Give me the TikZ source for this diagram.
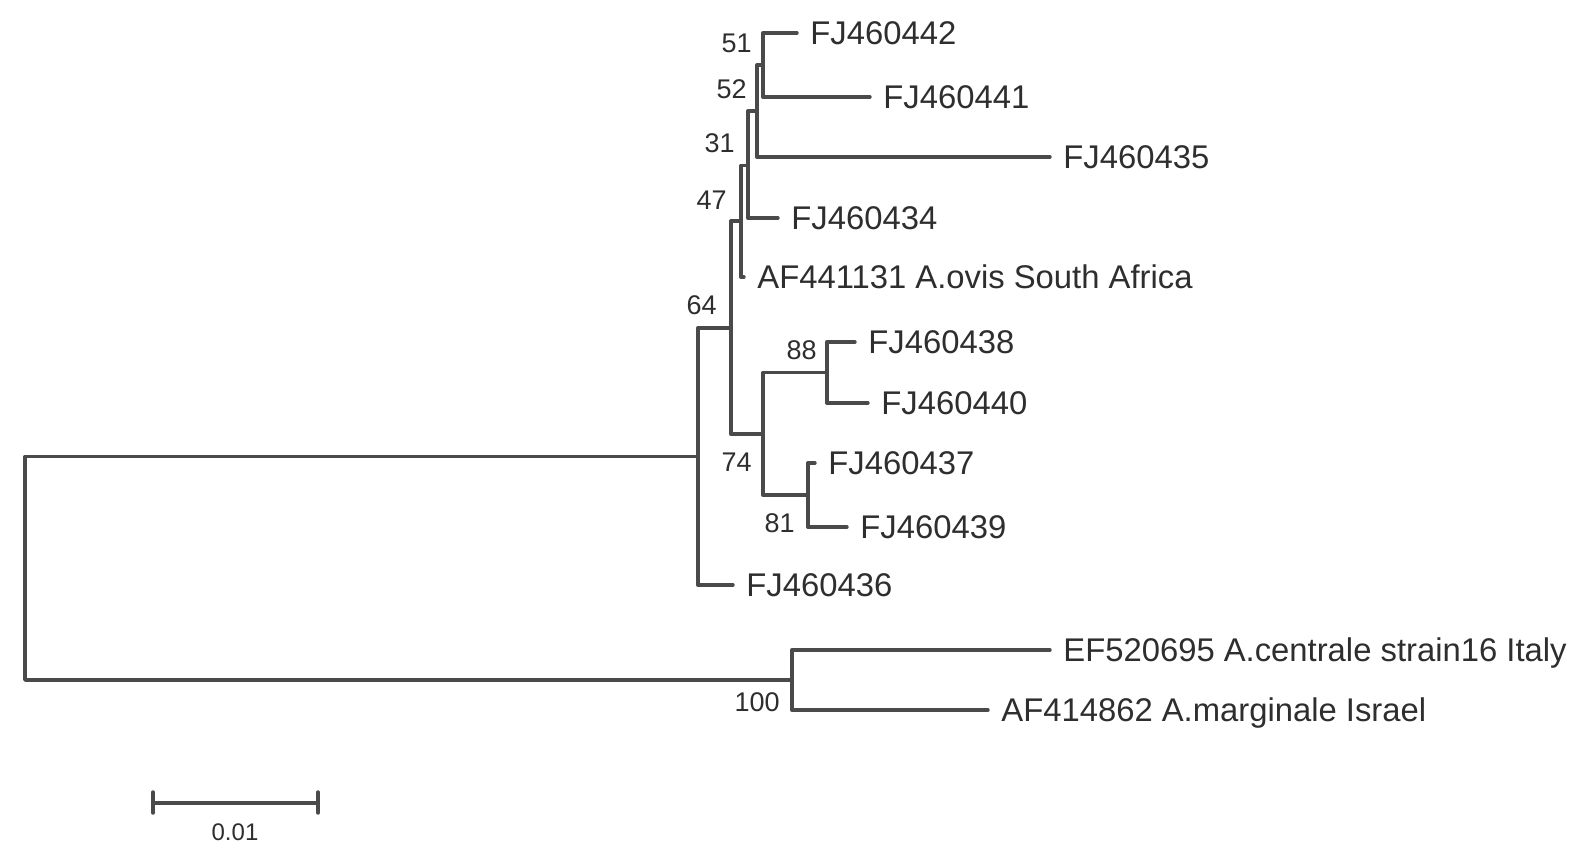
\documentclass[tikz,border=0pt]{standalone}
\usepackage{fontspec}
\setmainfont{Liberation Sans}
\usetikzlibrary{calc}
\definecolor{ink}{HTML}{2E2E2E}
\definecolor{branchC}{HTML}{4A4A4A}
\tikzset{
  branch/.style={draw=branchC,line width=1.7pt,line cap=round,line join=round},
  leaflab/.style={anchor=west,inner xsep=6.5pt,inner ysep=0pt,text height=11.8pt,
    text depth=0pt,font=\fontsize{16.4}{18}\selectfont,text=ink},
  bootlab/.style={anchor=east,inner sep=0pt,font=\fontsize{13.5}{15}\selectfont,text=ink},
  scalelab/.style={inner sep=0pt,font=\fontsize{12}{14}\selectfont,text=ink},
}

\begin{document}
\begin{tikzpicture}[x=0.5pt,y=-0.5pt]
\path[fill=white,use as bounding box] (0,0) rectangle (1580,847);

% ================= INTERNAL NODES =================
\coordinate (R) at (25,568);
\coordinate (A) at (698,456.5);
\coordinate (B) at (731,328);
\coordinate (N47) at (741,221);
\coordinate (N31) at (748,165.5);
\coordinate (N52) at (757,111);
\coordinate (N51) at (763,65);
\coordinate (N74) at (763,434);
\coordinate (N88) at (827,372.5);
\coordinate (N81) at (808,495);
\coordinate (C) at (792,680);

% ================= LEAVES =================
\node[leaflab] (FJ442) at (797,33) {FJ460442};
\node[leaflab] (FJ441) at (870,97) {FJ460441};
\node[leaflab] (FJ435) at (1050,157) {FJ460435};
\node[leaflab] (FJ434) at (778,218) {FJ460434};
\node[leaflab] (AF131) at (744,277) {AF441131 A.ovis South Africa};
\node[leaflab] (FJ438) at (855,342) {FJ460438};
\node[leaflab] (FJ440) at (868,403) {FJ460440};
\node[leaflab] (FJ437) at (815,463) {FJ460437};
\node[leaflab] (FJ439) at (847,527) {FJ460439};
\node[leaflab] (FJ436) at (733,585) {FJ460436};
\node[leaflab] (EF695) at (1050,650) {EF520695 A.centrale strain16 Italy};
\node[leaflab] (AF862) at (988,710) {AF414862 A.marginale Israel};

% ================= BRANCHES =================
\draw[branch] (R) |- (A);
\draw[branch] (R) |- (C);
\draw[branch] (A) |- (B);
\draw[branch] (A) |- (FJ436.west);
\draw[branch] (B) |- (N47);
\draw[branch] (B) |- (N74);
\draw[branch] (N47) |- (N31);
\draw[branch] (N47) |- (AF131.west);
\draw[branch] (N31) |- (N52);
\draw[branch] (N31) |- (FJ434.west);
\draw[branch] (N52) |- (N51);
\draw[branch] (N52) |- (FJ435.west);
\draw[branch] (N51) |- (FJ442.west);
\draw[branch] (N51) |- (FJ441.west);
\draw[branch] (N74) |- (N88);
\draw[branch] (N74) |- (N81);
\draw[branch] (N88) |- (FJ438.west);
\draw[branch] (N88) |- (FJ440.west);
\draw[branch] (N81) |- (FJ437.west);
\draw[branch] (N81) |- (FJ439.west);
\draw[branch] (C) |- (EF695.west);
\draw[branch] (C) |- (AF862.west);

% ================= BOOTSTRAP =================
\node[bootlab] (b51) at ([shift={(-11,-22)}]N51) {51};
\node[bootlab] (b52) at ([shift={(-10,-22)}]N52) {52};
\node[bootlab] (b31) at ([shift={(-13,-22)}]N31) {31};
\node[bootlab] (b47) at ([shift={(-14,-21)}]N47) {47};
\node[bootlab] (b64) at ([shift={(-14,-23)}]B) {64};
\node[bootlab] (b88) at ([shift={(-10,-22)}]N88) {88};
\node[bootlab] (b74) at ([shift={(-11,28)}]N74) {74};
\node[bootlab] (b81) at ([shift={(-13,28)}]N81) {81};
\node[bootlab] (b100) at ([shift={(-12,22)}]C) {100};

% ================= SCALE =================
\coordinate (s0) at (153,803);
\coordinate (s1) at (318,803);
\draw[branch] (s0) -- (s1);
\draw[branch] ([shift={(0,-11)}]s0) -- ([shift={(0,10)}]s0);
\draw[branch] ([shift={(0,-11)}]s1) -- ([shift={(0,10)}]s1);
\node[scalelab] (sc) at (235,832) {0.01};

\end{tikzpicture}
\end{document}
